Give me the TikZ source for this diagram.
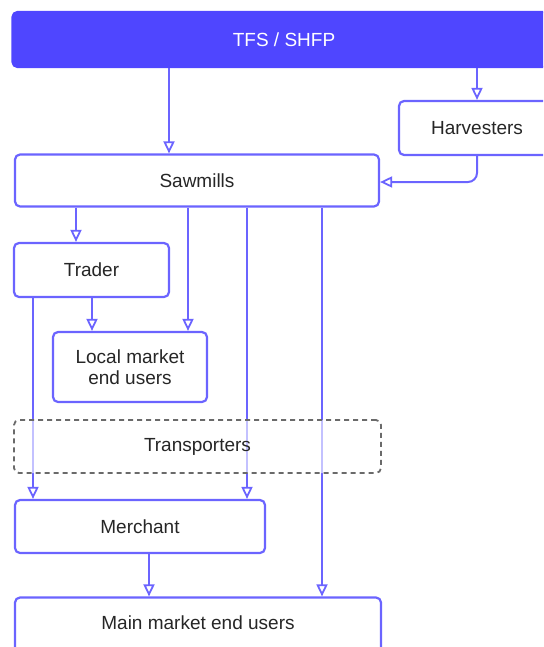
\documentclass[tikz,border=0pt]{standalone}
\usepackage{fontspec}
\setmainfont{Liberation Sans}
\usetikzlibrary{arrows.meta}
\definecolor{lineblue}{HTML}{6B64FF}
\definecolor{fillblue}{HTML}{4F46FF}
\definecolor{txtgray}{HTML}{262626}
\definecolor{dashgray}{HTML}{6A6A6A}
\tikzset{
  box/.style={draw=lineblue, line width=2.2pt, rounded corners=5pt, fill=white,
    text=txtgray, font=\fontsize{19}{20.5}\selectfont, align=center, inner sep=0pt},
  topbox/.style={box, fill=fillblue, draw=fillblue, text=white},
  dashbox/.style={draw=dashgray, line width=1.8pt, dash pattern=on 5pt off 4pt,
    rounded corners=5pt, fill=white, fill opacity=0.6, text opacity=1,
    text=txtgray, font=\fontsize{19}{20}\selectfont, inner sep=0pt},
  arr/.style={draw=lineblue, line width=2pt,
    -{Triangle[open, length=12pt, width=11pt, line width=1.8pt]}},
}
\begin{document}
\begin{tikzpicture}[x=1pt,y=-1pt]
\useasboundingbox (0,0) rectangle (543,647);
\clip (0,0) rectangle (543,647);
% nodes
\node[topbox, minimum width=543pt, minimum height=55pt] (tfs) at (284,39.5) {TFS / SHFP};
\node[box, minimum width=156pt, minimum height=54pt] (harv) at (477,128) {Harvesters};
\node[box, minimum width=364pt, minimum height=52pt] (saw) at (197,180.5) {Sawmills};
\node[box, minimum width=155pt, minimum height=54pt] (trader) at (91.5,270) {Trader};
\node[box, minimum width=154pt, minimum height=70pt] (local) at (130,367) {Local market\\end users};
\node[box, minimum width=250pt, minimum height=53pt] (merch) at (140,526.5) {Merchant};
\node[box, minimum width=366pt, minimum height=55pt, text depth=0pt] (main) at (198,625) {\raisebox{5pt}{Main market end users}};
% connectors
\draw[arr] (169,0 |- tfs.south) -- (169,0 |- saw.north);
\draw[arr] (477,0 |- tfs.south) -- (477,0 |- harv.north);
\draw[arr, rounded corners=9pt] (harv.south) |- (saw.east |- 0,182);
\draw[arr] (76,0 |- saw.south) -- (76,0 |- trader.north);
\draw[arr] (188,0 |- saw.south) -- (188,0 |- local.north);
\draw[arr] (92,0 |- trader.south) -- (92,0 |- local.north);
\draw[arr] (33,0 |- trader.south) -- (33,0 |- merch.north);
\draw[arr] (247,0 |- saw.south) -- (247,0 |- merch.north);
\draw[arr] (322,0 |- saw.south) -- (322,0 |- main.north);
\draw[arr] (149,0 |- merch.south) -- (149,0 |- main.north);
% transporters overlay
\node[dashbox, minimum width=367pt, minimum height=53pt] (trans) at (197.5,446.5) {Transporters};
\end{tikzpicture}
\end{document}
